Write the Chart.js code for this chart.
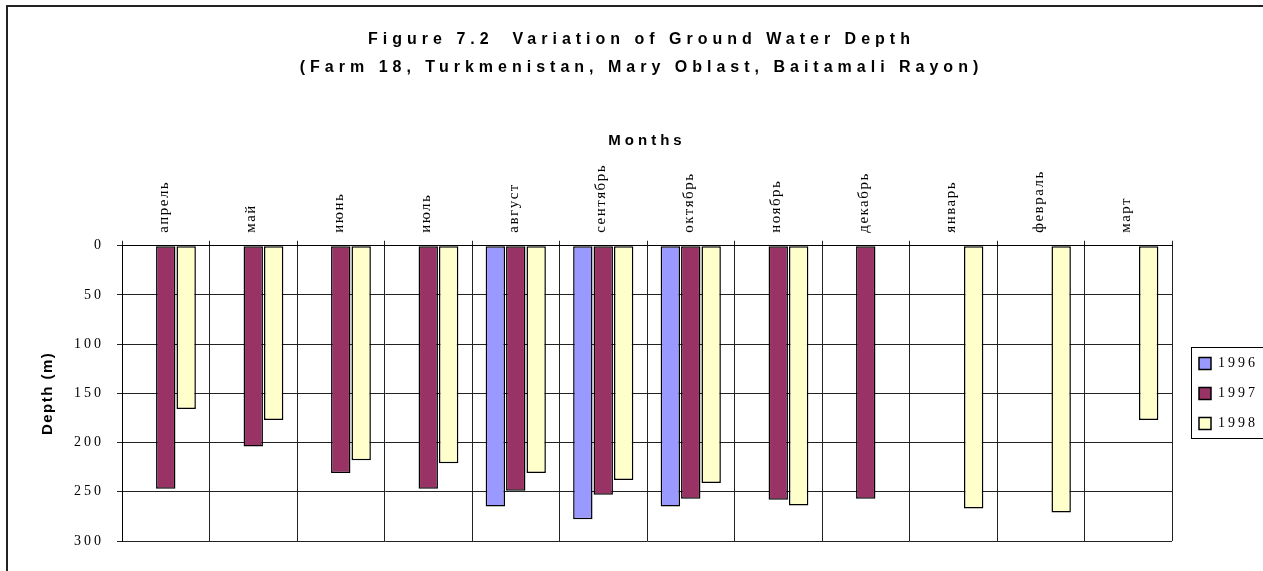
<!DOCTYPE html>
<html>
<head>
<meta charset="utf-8">
<script src="https://cdn.jsdelivr.net/npm/chart.js@4.4.0/dist/chart.umd.min.js"></script>
<style>
  html, body { margin: 0; padding: 0; background: #fff; }
  #wrap { position: relative; width: 1263px; height: 571px; overflow: hidden; }
  #frame { position: absolute; left: 6px; top: 5px; width: 2000px; height: 1000px;
           border-left: 2px solid #222; border-top: 2px solid #222; }
  canvas { position: absolute; left: 0; top: 0; }
</style>
</head>
<body>
<div id="wrap">
  <div id="frame"></div>
  <canvas id="c" width="1263" height="571"></canvas>
</div>
<script>
// Months of the observation year (April to March)
const months = ['апрель', 'май', 'июнь', 'июль', 'август', 'сентябрь',
                'октябрь', 'ноябрь', 'декабрь', 'январь', 'февраль', 'март'];

const years = ['1996', '1997', '1998'];

// Ground water depth per month
const depth1996 = [null, null, null, null, 265, 278, 265, null, null, null, null, null];
const depth1997 = [247, 204, 231, 247, 249, 253, 257, 258, 257, null, null, null];
const depth1998 = [166, 177, 218, 221, 231, 238, 241, 264, null, 267, 271, 177];

const depthTicks = [0, 50, 100, 150, 200, 250, 300];

const colors = ['#9999FF', '#993366', '#FFFFCC'];

const SERIF = "'Liberation Serif', 'Times New Roman', serif";
const SANS = "'Liberation Sans', Arial, sans-serif";

// Title / legend placement and the box drawn around the legend entries
const legendFrame = {
  id: 'legendFrame',
  afterLayout(chart) {
    const lg = chart.legend, ca = chart.chartArea, tb = chart.titleBlock;
    tb.left += 14;
    tb.right += 14;
    lg.left += 11;
    lg.right += 11;
    lg.top = ca.top;
    lg.bottom = ca.bottom;
    lg.height = ca.bottom - ca.top;
  },
  afterDraw(chart) {
    const lg = chart.legend, ca = chart.chartArea, ctx = chart.ctx;
    const cy = (ca.top + ca.bottom) / 2;
    const x = Math.round(lg.left + lg.options.labels.padding - 8) + 0.5;
    ctx.save();
    ctx.strokeStyle = '#000';
    ctx.lineWidth = 1;
    ctx.strokeRect(x, Math.round(cy - 46) + 0.5, 200, 91);
    ctx.restore();
  }
};

const chart = new Chart(document.getElementById('c'), {
  type: 'bar',
  data: {
    labels: months,
    datasets: [
      { label: years[0], data: depth1996 },
      { label: years[1], data: depth1997 },
      { label: years[2], data: depth1998 }
    ].map((d, i) => Object.assign(d, {
      backgroundColor: colors[i],
      borderColor: '#000',
      borderWidth: 1.5,
      borderSkipped: false,
      categoryPercentage: 0.70,
      barPercentage: 0.95
    }))
  },
  options: {
    responsive: false,
    animation: false,
    devicePixelRatio: 1,
    layout: { padding: { left: 10, right: 18, top: 0, bottom: 30 } },
    plugins: {
      tooltip: { enabled: false },
      title: {
        display: true,
        text: ['Figure 7.2  Variation of Ground Water Depth',
               '(Farm 18, Turkmenistan, Mary Oblast, Baitamali Rayon)'],
        color: '#000',
        font: { family: SANS, size: 16, weight: 'bold', lineHeight: 28 / 16 },
        padding: { top: 26, bottom: 46 }
      },
      legend: {
        position: 'right',
        labels: {
          color: '#000',
          boxWidth: 12,
          boxHeight: 12,
          padding: 16,
          font: { family: SERIF, size: 14 },
          generateLabels(chart) {
            return chart.data.datasets.map((ds, i) => ({
              text: ds.label,
              fillStyle: ds.backgroundColor,
              strokeStyle: '#000',
              lineWidth: 1.5,
              datasetIndex: i,
              fontColor: '#000'
            }));
          }
        }
      }
    },
    scales: {
      x: {
        position: 'top',
        offset: true,
        grid: { color: '#222', lineWidth: 1, tickLength: 5, offset: true },
        border: { color: '#000', width: 1 },
        ticks: {
          color: '#000',
          minRotation: 90,
          maxRotation: 90,
          autoSkip: false,
          padding: 8,
          labelOffset: 16,
          font: { family: SERIF, size: 15 }
        },
        title: {
          display: true,
          text: 'Months',
          color: '#000',
          font: { family: SANS, size: 15, weight: 'bold' },
          padding: { top: 4, bottom: 18 }
        }
      },
      y: {
        reverse: true,
        min: 0,
        max: 300,
        afterBuildTicks(scale) {
          scale.ticks = depthTicks.map(v => ({ value: v }));
        },
        grid: { color: '#222', lineWidth: 1, tickLength: 5 },
        border: { color: '#000', width: 1 },
        ticks: {
          color: '#000',
          padding: 13,
          font: { family: SERIF, size: 14 }
        },
        title: {
          display: true,
          text: 'Depth (m)',
          color: '#000',
          font: { family: SANS, size: 15, weight: 'bold' },
          padding: { top: 29, bottom: 13 }
        }
      }
    }
  },
  plugins: [legendFrame]
});

// Letter spacing for the individual text elements
function spaced(obj, method, px) {
  const orig = obj[method];
  obj[method] = function (...args) {
    const ctx = this.ctx;
    const prev = ctx.letterSpacing;
    ctx.letterSpacing = px;
    try { return orig.apply(this, args); } finally { ctx.letterSpacing = prev; }
  };
}
spaced(chart.titleBlock, 'draw', '5px');
spaced(chart.legend, 'draw', '3px');
spaced(chart.scales.x, 'drawTitle', '4px');
spaced(chart.scales.x, 'drawLabels', '1.5px');
spaced(chart.scales.y, 'drawTitle', '1.5px');
spaced(chart.scales.y, 'drawLabels', '3px');
chart.draw();
</script>
</body>
</html>
